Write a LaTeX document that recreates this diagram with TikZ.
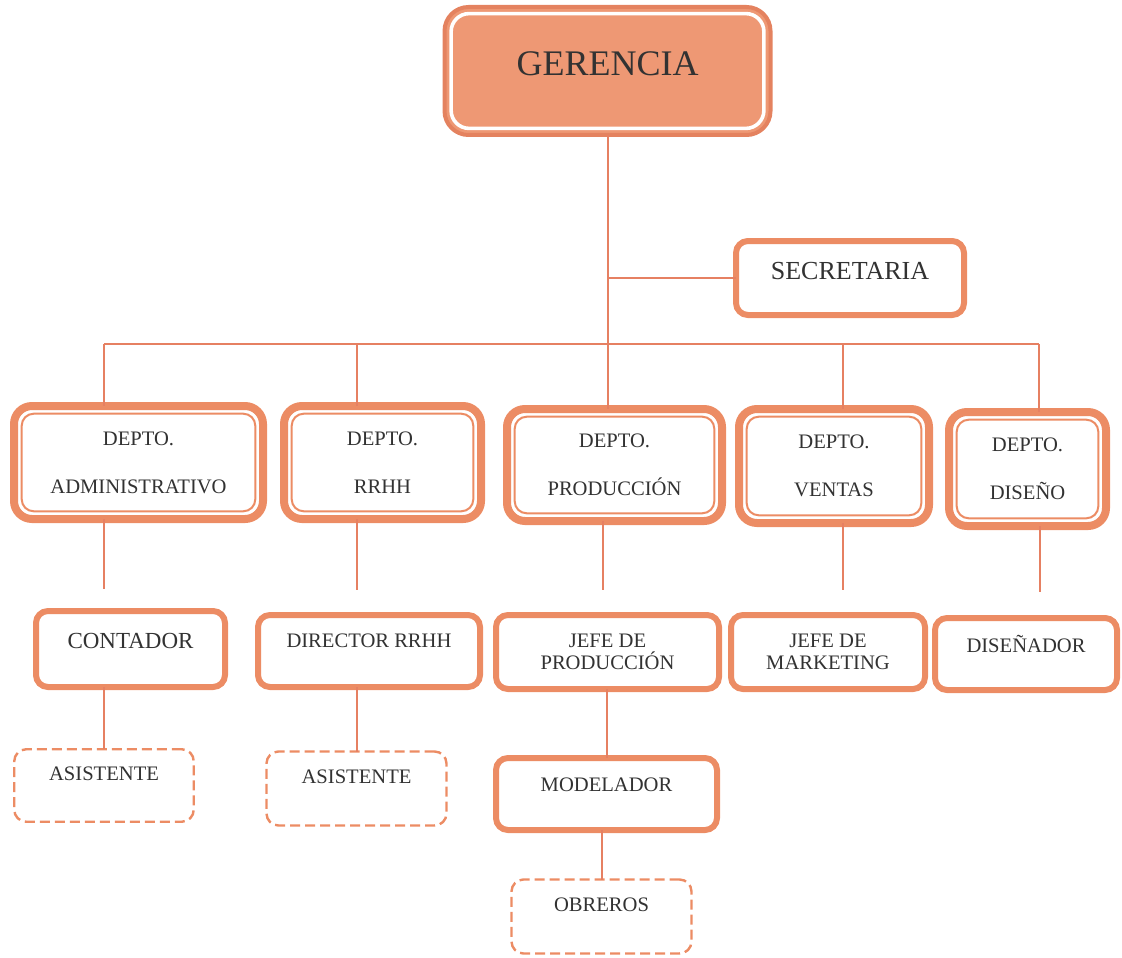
\documentclass[tikz,border=0pt]{standalone}
\usepackage{fontspec}
\setmainfont{Liberation Serif}
\definecolor{org}{RGB}{236,140,100}
\definecolor{salmon}{RGB}{238,152,116}
\definecolor{gborder}{RGB}{228,130,95}
\definecolor{lineclr}{RGB}{230,128,98}
\definecolor{txt}{RGB}{50,50,50}
\begin{document}
\begin{tikzpicture}[x=0.5pt,y=-0.5pt,
  every node/.style={outer sep=0pt, text=txt, align=center},
  gerbox/.style={draw=gborder, fill=salmon, line width=2pt, rounded corners=12pt,
    font=\fontsize{18}{20}\selectfont, text depth=7pt},
  single/.style={draw=org, fill=white, line width=3pt, rounded corners=6pt,
    font=\fontsize{10.3}{11}\selectfont},
  deptobox/.style={draw=org, fill=white, line width=4pt, rounded corners=9pt,
    font=\fontsize{10.3}{24}\selectfont},
  dashbox/.style={draw=org, line width=1.2pt, dash pattern=on 5pt off 2.5pt,
    rounded corners=6pt, font=\fontsize{10.3}{11}\selectfont},
  innerline/.style={draw=org, line width=1pt, rounded corners=6pt},
  conn/.style={draw=lineclr, line width=1pt}]
\useasboundingbox (0,0) rectangle (1122,957);

% top
\node[gerbox, minimum width=163pt, minimum height=64pt] (ger) at (607.5,71) {GERENCIA};
\draw[white, line width=1.8pt, rounded corners=9pt]
  ([xshift=3.3pt,yshift=-3.3pt]ger.north west) rectangle ([xshift=-3.3pt,yshift=3.3pt]ger.south east);
\node[single, font=\fontsize{13}{14}\selectfont, minimum width=114pt, minimum height=37pt, text depth=7pt] (sec) at (850,278) {SECRETARIA};

% departments
\node[deptobox, minimum width=124.5pt, minimum height=56.5pt] (adm) at (138.5,462.5) {DEPTO.\\ADMINISTRATIVO};
\node[deptobox, minimum width=98.5pt, minimum height=56.5pt] (rrhh) at (382.5,462.5) {DEPTO.\\RRHH};
\node[deptobox, minimum width=107.5pt, minimum height=56pt] (prod) at (614.5,465) {DEPTO.\\PRODUCCIÓN};
\node[deptobox, minimum width=95pt, minimum height=57pt] (vent) at (834,466) {DEPTO.\\VENTAS};
\node[deptobox, minimum width=78.5pt, minimum height=57pt] (dis) at (1027.5,469) {DEPTO.\\DISEÑO};
\foreach \n in {adm,rrhh,prod,vent,dis}
  \draw[innerline] ([xshift=3.85pt,yshift=-3.85pt]\n.north west) rectangle ([xshift=-3.85pt,yshift=3.85pt]\n.south east);

% second level
\node[single, font=\fontsize{11.5}{12}\selectfont, minimum width=94.5pt, minimum height=38pt, text depth=8pt] (cont) at (130.5,649) {CONTADOR};
\node[single, minimum width=111pt, minimum height=36pt, text depth=10pt] (dir) at (369,651) {DIRECTOR RRHH};
\node[single, minimum width=111.5pt, minimum height=37pt] (jp) at (607.5,652) {JEFE DE\\PRODUCCIÓN};
\node[single, minimum width=97pt, minimum height=37pt] (jm) at (828,652) {JEFE DE\\MARKETING};
\node[single, minimum width=91pt, minimum height=36pt, text depth=10pt] (dsr) at (1026,654) {DISEÑADOR};
\node[single, minimum width=110.5pt, minimum height=36pt, text depth=9pt] (mod) at (606.5,794) {MODELADOR};

% dashed
\node[dashbox, minimum width=89.75pt, minimum height=36.25pt, text depth=12pt] (as1) at (104,785.5) {ASISTENTE};
\node[dashbox, minimum width=90pt, minimum height=37pt, text depth=11.5pt] (as2) at (356.5,788.5) {ASISTENTE};
\node[dashbox, minimum width=90pt, minimum height=37pt, text depth=11.5pt] (obr) at (601.5,916.5) {OBREROS};

% connectors
\draw[conn] (ger.south) -- (ger.south |- prod.north);
\draw[conn] (sec.west) -- (sec.west -| ger.south);
\coordinate (dA) at (104,344);
\coordinate (dR) at (357,344);
\coordinate (dV) at (843,344);
\coordinate (dD) at (1039,344);
\draw[conn] (dA) -- (dD);
\draw[conn] (dA) -- (dA |- adm.north);
\draw[conn] (dR) -- (dR |- rrhh.north);
\draw[conn] (dV) -- (dV |- vent.north);
\draw[conn] (dD) -- (dD |- dis.north);

\coordinate (eA) at (104,589);
\coordinate (eR) at (357,590);
\coordinate (eP) at (603,590);
\coordinate (eV) at (843,590);
\coordinate (eD) at (1040,592);
\draw[conn] (eA |- adm.south) -- (eA);
\draw[conn] (eR |- rrhh.south) -- (eR);
\draw[conn] (eP |- prod.south) -- (eP);
\draw[conn] (eV |- vent.south) -- (eV);
\draw[conn] (eD |- dis.south) -- (eD);

\draw[conn] (cont.south -| as1.north) -- (as1.north);
\draw[conn] (dir.south -| as2.north) -- (as2.north);
\draw[conn] (jp.south -| mod.north) -- (mod.north);
\draw[conn] (mod.south -| obr.north) -- (obr.north);
\end{tikzpicture}
\end{document}
